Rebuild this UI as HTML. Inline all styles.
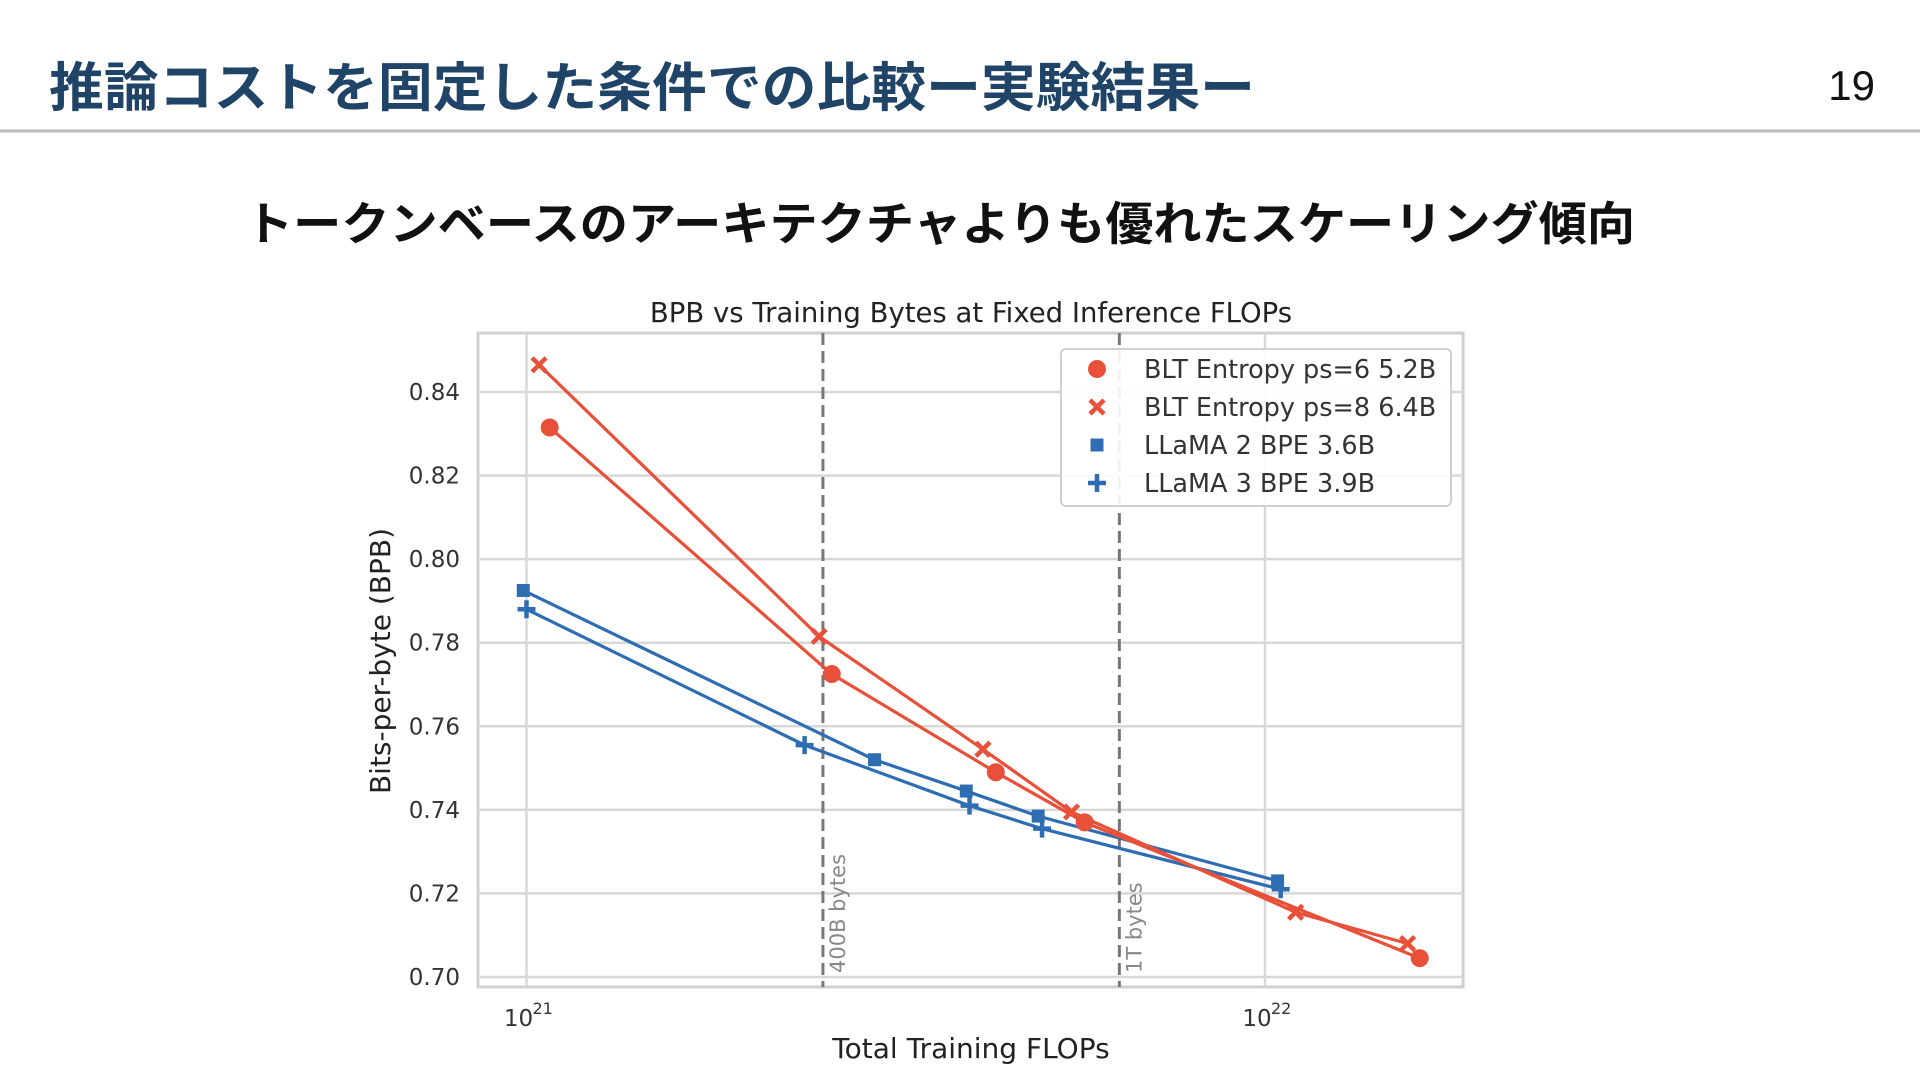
<!DOCTYPE html>
<html><head><meta charset="utf-8">
<style>
html,body{margin:0;padding:0;background:#fff;}
body{width:1920px;height:1080px;overflow:hidden;position:relative;font-family:"Liberation Sans","Noto Sans CJK JP",sans-serif;}
</style></head>
<body>
<svg id="slide" width="1920" height="1080" xmlns="http://www.w3.org/2000/svg">
  <text x="49" y="106" font-size="53" font-weight="bold" fill="#1f4468" font-family="'Liberation Sans','Noto Sans CJK JP',sans-serif" textLength="1206" lengthAdjust="spacingAndGlyphs">推論コストを固定した条件での比較ー実験結果ー</text>
  <text x="1875" y="100" font-size="42" text-anchor="end" fill="#111" font-family="'Liberation Sans',sans-serif">19</text>
  <line x1="0" y1="131" x2="1920" y2="131" stroke="#bbb" stroke-width="3"/>
  <text x="245" y="240" font-size="46" font-weight="bold" fill="#111" font-family="'Liberation Sans','Noto Sans CJK JP',sans-serif" textLength="1390" lengthAdjust="spacingAndGlyphs">トークンベースのアーキテクチャよりも優れたスケーリング傾向</text>
  <g id="chart"></g>
</svg>
<script>
const ps6X = [1.075, 2.59, 4.32, 5.70, 16.2];
const ps6Y = [0.8315, 0.7725, 0.749, 0.737, 0.7045];
const ps8X = [1.04, 2.49, 4.15, 5.47, 11.0, 15.6];
const ps8Y = [0.8465, 0.7815, 0.7545, 0.7395, 0.7155, 0.708];
const llama2X = [0.99, 2.96, 3.94, 4.93, 10.4];
const llama2Y = [0.7925, 0.752, 0.7445, 0.7385, 0.723];
const llama3X = [1.0, 2.38, 3.98, 4.99, 10.5];
const llama3Y = [0.788, 0.7555, 0.741, 0.7355, 0.721];
const yTicks = [0.70, 0.72, 0.74, 0.76, 0.78, 0.80, 0.82, 0.84];
const xTicks = [1, 10];
const xTickExp = ["21", "22"];
const refLinesX = [2.52, 6.35];
const refLabels = ["400B bytes", "1T bytes"];
const legendLabels = ["BLT Entropy ps=6 5.2B", "BLT Entropy ps=8 6.4B", "LLaMA 2 BPE 3.6B", "LLaMA 3 BPE 3.9B"];

const NS = "http://www.w3.org/2000/svg";
const g = document.getElementById('chart');
const RED = "#e8503a", BLUE = "#2f6db3";
const L = 478, R = 1463, T = 333, B = 987;
const xs = v => 526.5 + Math.log10(v) * (1265 - 526.5);
const ys = v => 977 - (v - 0.70) / 0.14 * (977 - 392);
function el(tag, attrs, parent) {
  const e = document.createElementNS(NS, tag);
  for (const k in attrs) e.setAttribute(k, attrs[k]);
  (parent || g).appendChild(e);
  return e;
}
const F = "'DejaVu Sans','Liberation Sans',sans-serif";

let e = el('rect', {x: L, y: T, width: R - L, height: B - T, fill: '#fff', stroke: '#d0d0d0', 'stroke-width': 3});



yTicks.forEach(v => {
  const gl = el('line', {x1: L, x2: R, y1: ys(v), y2: ys(v), stroke: '#d8d8d8', 'stroke-width': 2.5});
  
  
  const t = el('text', {x: L - 18, y: ys(v) + 8, 'font-size': 23, 'text-anchor': 'end', fill: '#333', 'font-family': F});
  t.textContent = v.toFixed(2);
  
  
});
xTicks.forEach((v, i) => {
  const gl = el('line', {x1: xs(v), x2: xs(v), y1: T, y2: B, stroke: '#d8d8d8', 'stroke-width': 2.5});
  
  
  const t = el('text', {x: xs(v) - 8, y: 1026, 'font-size': 23, 'text-anchor': 'middle', fill: '#333', 'font-family': F});
  t.textContent = '10';
  
  
  const s = el('text', {x: xs(v) + 6, y: 1014, 'font-size': 16, fill: '#333', 'font-family': F});
  s.textContent = xTickExp[i];
  
  
});
refLinesX.forEach((v, i) => {
  const l = el('line', {x1: xs(v), x2: xs(v), y1: T, y2: B, stroke: '#777', 'stroke-width': 3, 'stroke-dasharray': '12 6'});
  
  
  const t = el('text', {x: 0, y: 0, 'font-size': 21, fill: '#888', 'font-family': F, transform: `translate(${xs(v) + 22},973) rotate(-90)`});
  t.textContent = refLabels[i];
  
  
});

function series(X, Y, color, marker, name) {
  const pts = X.map((v, i) => xs(v) + ',' + ys(Y[i])).join(' ');
  const pl = el('polyline', {points: pts, fill: 'none', stroke: color, 'stroke-width': 3.2});
  
  
  X.forEach((v, i) => drawMarker(xs(v), ys(Y[i]), color, marker, name));
}
function drawMarker(cx, cy, color, marker, name) {
  let m;
  if (marker === 'circle') m = el('circle', {cx, cy, r: 9, fill: color});
  else if (marker === 'x') m = el('path', {d: `M${cx-7},${cy-7}L${cx+7},${cy+7}M${cx-7},${cy+7}L${cx+7},${cy-7}`, stroke: color, 'stroke-width': 4.5});
  else if (marker === 'square') m = el('rect', {x: cx - 6.5, y: cy - 6.5, width: 13, height: 13, fill: color});
  else m = el('path', {d: `M${cx-9},${cy}L${cx+9},${cy}M${cx},${cy-9}L${cx},${cy+9}`, stroke: color, 'stroke-width': 4.5});
  
  
}
series(llama2X, llama2Y, BLUE, 'square', 'llama2');
series(llama3X, llama3Y, BLUE, 'plus', 'llama3');
series(ps6X, ps6Y, RED, 'circle', 'blt-ps6');
series(ps8X, ps8Y, RED, 'x', 'blt-ps8');

const lg = el('rect', {x: 1061, y: 349, width: 390, height: 157, rx: 5, fill: 'rgba(255,255,255,0.9)', stroke: '#d0d0d0', 'stroke-width': 2});


const lgMarkers = [['circle', RED], ['x', RED], ['square', BLUE], ['plus', BLUE]];
legendLabels.forEach((lab, i) => {
  const y = 369 + i * 38;
  drawMarker(1097, y, lgMarkers[i][1], lgMarkers[i][0], 'legend-entry');
  const t = el('text', {x: 1144, y: y + 9, 'font-size': 25.5, fill: '#333', 'font-family': F});
  t.textContent = lab;
  
  
});

let tt = el('text', {x: 971, y: 322, 'font-size': 27.5, 'text-anchor': 'middle', fill: '#222', 'font-family': F});
tt.textContent = 'BPB vs Training Bytes at Fixed Inference FLOPs';


let xt = el('text', {x: 971, y: 1058, 'font-size': 28, 'text-anchor': 'middle', fill: '#222', 'font-family': F});
xt.textContent = 'Total Training FLOPs';


let yt = el('text', {x: 0, y: 0, 'font-size': 28, 'text-anchor': 'middle', fill: '#222', 'font-family': F, transform: 'translate(390,661) rotate(-90)'});
yt.textContent = 'Bits-per-byte (BPB)';


</script>
</body></html>
